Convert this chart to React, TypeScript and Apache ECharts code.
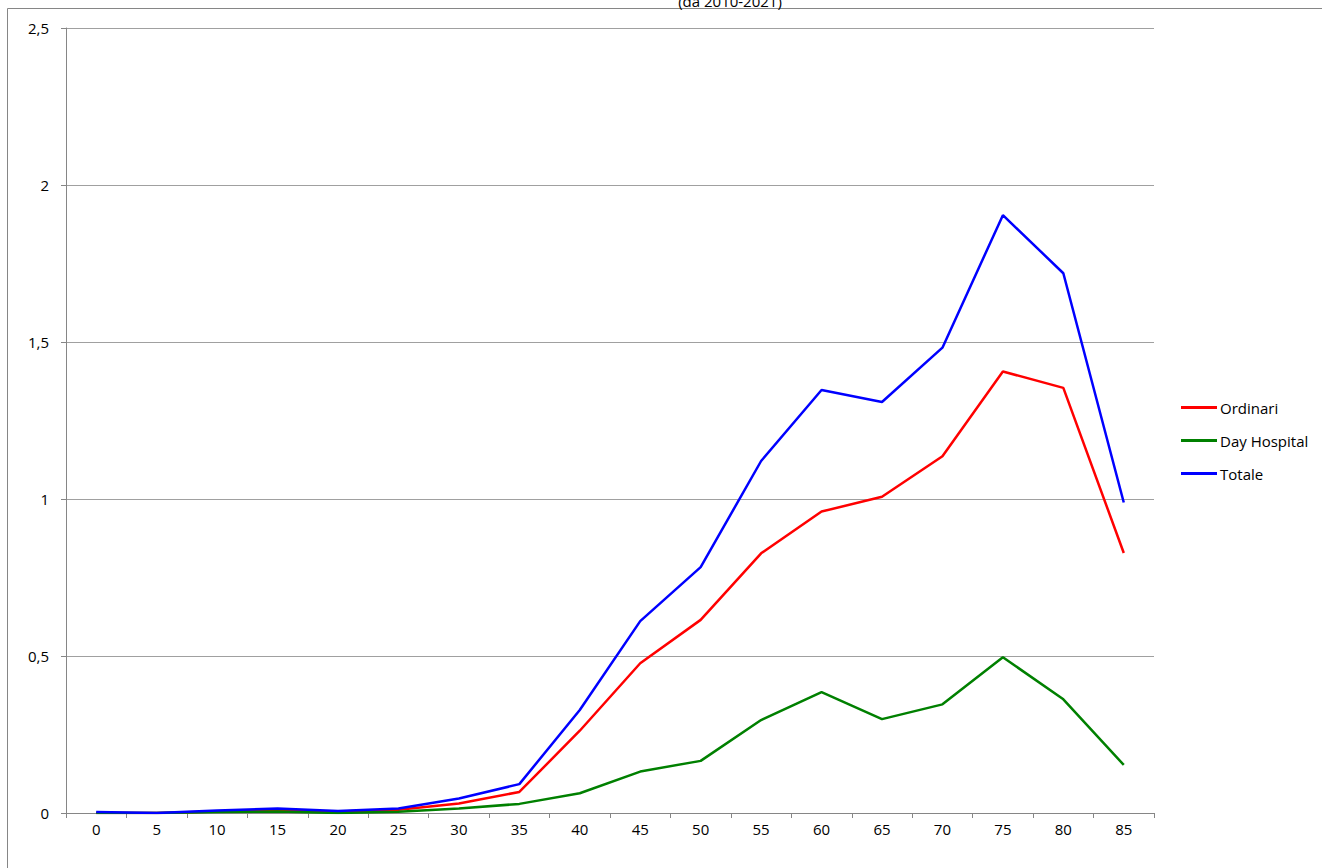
import React, { useEffect, useRef } from "react";
import * as echarts from "echarts";

const categories = ["0", "5", "10", "15", "20", "25", "30", "35", "40", "45", "50", "55", "60", "65", "70", "75", "80", "85"];
const ordinari = [0.0, 0.0, 0.005, 0.007, 0.005, 0.01, 0.03, 0.067, 0.262, 0.477, 0.615, 0.827, 0.96, 1.007, 1.136, 1.406, 1.354, 0.828];
const dayHospital = [0.0, 0.0, 0.003, 0.005, 0.0, 0.004, 0.014, 0.029, 0.063, 0.132, 0.166, 0.296, 0.385, 0.299, 0.346, 0.496, 0.362, 0.153];
const totale = [0.003, 0.0, 0.008, 0.014, 0.006, 0.014, 0.046, 0.092, 0.328, 0.611, 0.783, 1.121, 1.347, 1.309, 1.482, 1.904, 1.719, 0.989];
const titleText = "(da 2010-2021)";

const FONT = "'Open Sans', 'Noto Sans', sans-serif";

export default function App() {
  const ref = useRef<HTMLDivElement>(null);
  useEffect(() => {
    if (!ref.current) return;
    const chart = echarts.init(ref.current, null, { renderer: "svg" });
    const mk = (name: string, data: number[], color: string) => ({
      name,
      type: "line",
      data,
      symbol: "none",
      lineStyle: { color, width: 2.5 },
      itemStyle: { color },
    });
    chart.setOption({
      animation: false,
      backgroundColor: "#ffffff",
      textStyle: { fontFamily: FONT },
      title: {
        text: titleText,
        left: 725,
        top: -12,
        textAlign: "center",
        textStyle: { fontSize: 15, fontWeight: "normal", color: "#000", fontFamily: FONT },
      },
      graphic: [
        {
          type: "rect",
          shape: { x: 7.5, y: 8.5, width: 1330, height: 880 },
          style: { fill: "none", stroke: "#868686", lineWidth: 1 },
          silent: true,
          z: -1,
        },
      ],
      legend: {
        orient: "vertical",
        left: 1176,
        top: 395,
        icon: "rect",
        itemWidth: 36,
        itemHeight: 3,
        itemGap: 18,
        textStyle: { fontSize: 15, color: "#000", fontFamily: FONT, padding: [0, 0, 0, -2] },
        data: ["Ordinari", "Day Hospital", "Totale"],
      },
      grid: { left: 66, top: 28, width: 1088, height: 785, containLabel: false },
      xAxis: {
        type: "category",
        data: categories,
        boundaryGap: true,
        axisLine: { lineStyle: { color: "#868686", width: 1 } },
        axisTick: { show: true, length: 5, alignWithLabel: false, lineStyle: { color: "#868686" } },
        axisLabel: { color: "#000", fontSize: 15, margin: 8, fontFamily: FONT },
        splitLine: { show: false },
      },
      yAxis: {
        type: "value",
        min: 0,
        max: 2.5,
        interval: 0.5,
        axisLine: { show: true, lineStyle: { color: "#868686", width: 1 } },
        axisTick: { show: true, length: 5, lineStyle: { color: "#868686" } },
        axisLabel: {
          color: "#000",
          fontSize: 15,
          margin: 17,
          fontFamily: FONT,
          formatter: (v: number) => String(v).replace(".", ","),
        },
        splitLine: { show: true, lineStyle: { color: "#a0a0a0", width: 1 } },
      },
      series: [
        mk("Ordinari", ordinari, "#ff0000"),
        mk("Day Hospital", dayHospital, "#008000"),
        mk("Totale", totale, "#0000ff"),
      ],
    });
    return () => chart.dispose();
  }, []);
  return (
    <div
      ref={ref}
      style={{ position: "absolute", left: 0, top: 0, width: 1322, height: 868 }}
    />
  );
}
